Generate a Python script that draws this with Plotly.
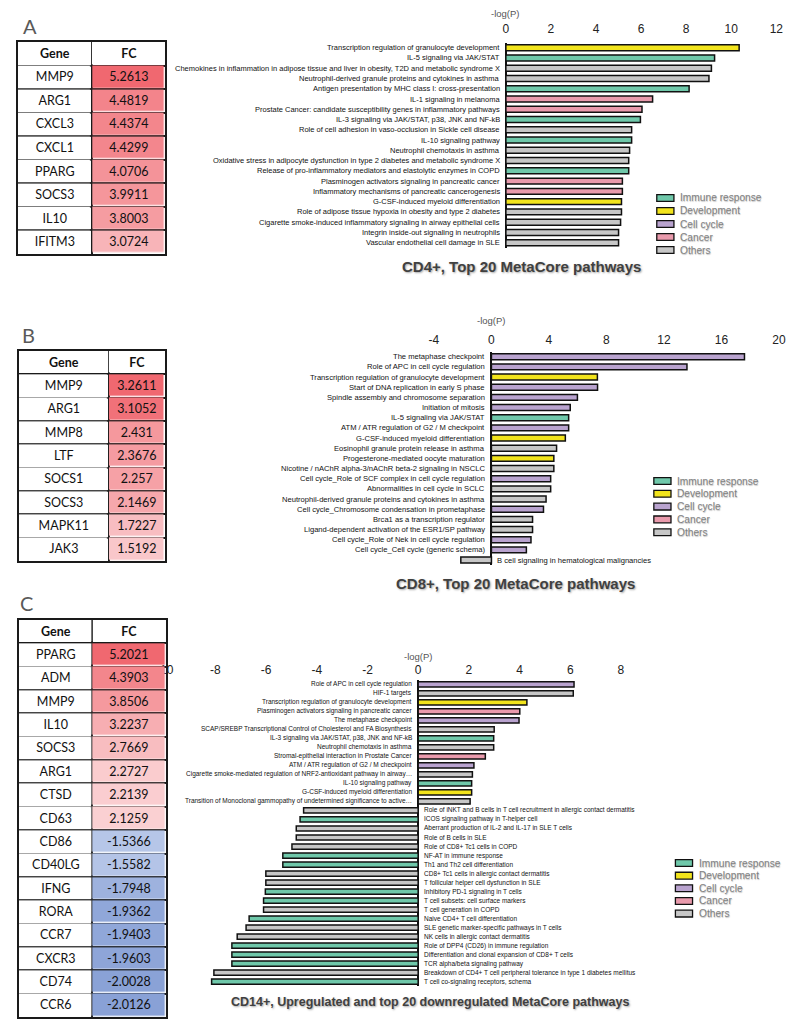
import plotly.graph_objects as go

W, H = 800, 1028

IMM, DEV, CYC, CAN, OTH = "Immune response", "Development", "Cell cycle", "Cancer", "Others"
legend_labels = [IMM, DEV, CYC, CAN, OTH]
legend_colors = ["#6fc8aa", "#f2e41c", "#b9a3cf", "#e99aac", "#c7c7c7"]
COLOR_OF = dict(zip(legend_labels, legend_colors))

# ---------------- Panel A (CD4+) ----------------
genes_a = ["MMP9", "ARG1", "CXCL3", "CXCL1", "PPARG", "SOCS3", "IL10", "IFITM3"]
fc_a = [5.2613, 4.4819, 4.4374, 4.4299, 4.0706, 3.9911, 3.8003, 3.0724]
pathways_a = [
    "Transcription regulation of granulocyte development",
    "IL-5 signaling via JAK/STAT",
    "Chemokines in inflammation in adipose tissue and liver in obesity, T2D and metabolic syndrome X",
    "Neutrophil-derived granule proteins and cytokines in asthma",
    "Antigen presentation by MHC class I: cross-presentation",
    "IL-1 signaling in melanoma",
    "Prostate Cancer: candidate susceptibility genes in inflammatory pathways",
    "IL-3 signaling via JAK/STAT, p38, JNK and NF-kB",
    "Role of cell adhesion in vaso-occlusion in Sickle cell disease",
    "IL-10 signaling pathway",
    "Neutrophil chemotaxis in asthma",
    "Oxidative stress in adipocyte dysfunction in type 2 diabetes and metabolic syndrome X",
    "Release of pro-inflammatory mediators and elastolytic enzymes in COPD",
    "Plasminogen activators signaling in pancreatic cancer",
    "Inflammatory mechanisms of pancreatic cancerogenesis",
    "G-CSF-induced myeloid differentiation",
    "Role of adipose tissue hypoxia in obesity and type 2 diabetes",
    "Cigarette smoke-induced inflammatory signaling in airway epithelial cells",
    "Integrin inside-out signaling in neutrophils",
    "Vascular endothelial cell damage in SLE",
]
logp_a = [10.35, 9.26, 9.12, 9.01, 8.13, 6.51, 6.04, 5.97, 5.58, 5.58,
          5.49, 5.45, 5.45, 5.17, 5.17, 5.13, 5.13, 5.09, 5.00, 5.00]
groups_a = [DEV, IMM, OTH, OTH, IMM, CAN, CAN, IMM, OTH, IMM,
            OTH, OTH, IMM, CAN, CAN, DEV, OTH, OTH, OTH, OTH]
ticks_a = [0, 2, 4, 6, 8, 10, 12]
title_a = "CD4+, Top 20 MetaCore pathways"

# ---------------- Panel B (CD8+) ----------------
genes_b = ["MMP9", "ARG1", "MMP8", "LTF", "SOCS1", "SOCS3", "MAPK11", "JAK3"]
fc_b = [3.2611, 3.1052, 2.431, 2.3676, 2.257, 2.1469, 1.7227, 1.5192]
pathways_b = [
    "The metaphase checkpoint",
    "Role of APC in cell cycle regulation",
    "Transcription regulation of granulocyte development",
    "Start of DNA replication in early S phase",
    "Spindle assembly and chromosome separation",
    "Initiation of mitosis",
    "IL-5 signaling via JAK/STAT",
    "ATM / ATR regulation of G2 / M checkpoint",
    "G-CSF-induced myeloid differentiation",
    "Eosinophil granule protein release in asthma",
    "Progesterone-mediated oocyte maturation",
    "Nicotine / nAChR alpha-3/nAChR beta-2 signaling in NSCLC",
    "Cell cycle_Role of SCF complex in cell cycle regulation",
    "Abnormalities in cell cycle in SCLC",
    "Neutrophil-derived granule proteins and cytokines in asthma",
    "Cell cycle_Chromosome condensation in prometaphase",
    "Brca1 as a transcription regulator",
    "Ligand-dependent activation of the ESR1/SP pathway",
    "Cell cycle_Role of Nek in cell cycle regulation",
    "Cell cycle_Cell cycle (generic schema)",
    "B cell signaling in hematological malignancies",
]
logp_b = [17.6, 13.6, 7.37, 7.38, 5.98, 5.48, 5.37, 5.37, 5.14, 4.53, 4.34,
          4.34, 4.12, 4.12, 3.80, 3.62, 2.86, 2.86, 2.75, 2.43, -2.13]
groups_b = [CYC, CYC, DEV, CYC, CYC, CYC, IMM, CYC, DEV, OTH, DEV,
            OTH, CYC, OTH, OTH, CYC, OTH, OTH, CYC, CYC, OTH]
ticks_b = [-4, 0, 4, 8, 12, 16, 20]
title_b = "CD8+, Top 20 MetaCore pathways"

# ---------------- Panel C (CD14+) ----------------
genes_c = ["PPARG", "ADM", "MMP9", "IL10", "SOCS3", "ARG1", "CTSD", "CD63",
           "CD86", "CD40LG", "IFNG", "RORA", "CCR7", "CXCR3", "CD74", "CCR6"]
fc_c = [5.2021, 4.3903, 3.8506, 3.2237, 2.7669, 2.2727, 2.2139, 2.1259,
        -1.5366, -1.5582, -1.7948, -1.9362, -1.9403, -1.9603, -2.0028, -2.0126]
pathways_c = [
    "Role of APC in cell cycle regulation",
    "HIF-1 targets",
    "Transcription regulation of granulocyte development",
    "Plasminogen activators signaling in pancreatic cancer",
    "The metaphase checkpoint",
    "SCAP/SREBP Transcriptional Control of Cholesterol and FA Biosynthesis",
    "IL-3 signaling via JAK/STAT, p38, JNK and NF-kB",
    "Neutrophil chemotaxis in asthma",
    "Stromal-epithelial interaction in Prostate Cancer",
    "ATM / ATR regulation of G2 / M checkpoint",
    "Cigarette smoke-mediated regulation of NRF2-antioxidant pathway in airway…",
    "IL-10 signaling pathway",
    "G-CSF-induced myeloid differentiation",
    "Transition of Monoclonal gammopathy of undetermined significance to active…",
    "Role of iNKT and B cells in T cell recruitment in allergic contact dermatitis",
    "ICOS signaling pathway in T-helper cell",
    "Aberrant production of IL-2 and IL-17 in SLE T cells",
    "Role of B cells in SLE",
    "Role of CD8+ Tc1 cells in COPD",
    "NF-AT in immune response",
    "Th1 and Th2 cell differentiation",
    "CD8+ Tc1 cells in allergic contact dermatitis",
    "T follicular helper cell dysfunction in SLE",
    "Inhibitory PD-1 signaling in T cells",
    "T cell subsets: cell surface markers",
    "T cell generation in COPD",
    "Naive CD4+ T cell differentiation",
    "SLE genetic marker-specific pathways in T cells",
    "NK cells in allergic contact dermatitis",
    "Role of DPP4 (CD26) in immune regulation",
    "Differentiation and clonal expansion of CD8+ T cells",
    "TCR alpha/beta signaling pathway",
    "Breakdown of CD4+ T cell peripheral tolerance in type 1 diabetes mellitus",
    "T cell co-signaling receptors, schema",
]
logp_c = [6.15, 6.12, 4.29, 4.01, 3.98, 3.00, 2.98, 2.98, 2.65, 2.20, 2.14, 2.11, 2.11, 2.05,
          -4.52, -4.66, -4.81, -4.81, -4.98, -5.34, -5.34, -6.01, -6.01, -6.03,
          -6.10, -6.10, -6.67, -6.79, -7.14, -7.35, -7.35, -7.35, -8.06, -8.15]
groups_c = [CYC, OTH, DEV, CAN, CYC, OTH, IMM, OTH, CAN, CYC, OTH, IMM, DEV, OTH,
            OTH, IMM, OTH, OTH, OTH, IMM, IMM, OTH, OTH, IMM,
            IMM, OTH, IMM, OTH, OTH, IMM, IMM, IMM, OTH, IMM]
ticks_c = [-10, -8, -6, -4, -2, 0, 2, 4, 6, 8]
title_c = "CD14+, Upregulated and top 20 downregulated MetaCore pathways"

table_header = ["Gene", "FC"]

# ---------------- helpers ----------------
def px(xp):
    return xp / W

def py(yp):
    return 1 - yp / H

def mix(c1, c2, t):
    return "rgb(%d,%d,%d)" % tuple(round(a + (b - a) * t) for a, b in zip(c1, c2))

def fc_color(v, values):
    pos = [u for u in values if u > 0]
    neg = [abs(u) for u in values if u < 0]
    if v > 0:
        t = (v / max(pos)) ** 1.3
        return mix((255, 255, 255), (240, 104, 112), t)
    lo, hi = min(neg), max(neg)
    t = (abs(v) - lo) / (hi - lo) if hi > lo else 1
    return mix((182, 198, 232), (137, 161, 214), t)

def fc_colorscale(values):
    zmin, zmax = min(values), max(values)
    stops = sorted(((v - zmin) / (zmax - zmin), fc_color(v, values)) for v in values)
    return [[s, c] for s, c in stops]

TABLE_FONT = "Lato, Carlito, Calibri, sans-serif"
LABEL_FONT = "Liberation Sans, Arial, sans-serif"
AXIS_FONT = "Liberation Sans, Arial, sans-serif"
LINE = "#1a1a1a"
WHITE_SCALE = [[0, "white"], [1, "white"]]

fig = go.Figure()
annotations = []
shapes = []
layout_axes = {}

panels = [
    dict(ax="", genes=genes_a, fc=fc_a, names=pathways_a, vals=logp_a, groups=groups_a, ticks=ticks_a,
         title=title_a, rng=[0, 12], xdom=(507, 783), ydom=(42.6, 247.8), lab=7.5, standoff=6,
         table=(9, 159, 42, 254), colw=(76, 74), tax="4", letter=("A", 21, 26),
         logp_y=14, title_xy=(523, 267), title_size=15, leg=(661, 198, 13.0)),
    dict(ax="2", genes=genes_b, fc=fc_b, names=pathways_b, vals=logp_b, groups=groups_b, ticks=ticks_b,
         title=title_b, rng=[-4, 20], xdom=(433.6, 785.7), ydom=(351.6, 565.1), lab=7.6, standoff=4,
         table=(10, 159, 351, 561), colw=(92, 57), tax="5", letter=("B", 20, 335),
         logp_y=320, title_xy=(517, 583), title_size=15, leg=(658, 481, 12.8)),
    dict(ax="3", genes=genes_c, fc=fc_c, names=pathways_c, vals=logp_c, groups=groups_c, ticks=ticks_c,
         title=title_c, rng=[-10, 9.5], xdom=(158.9, 663.2), ydom=(679.8, 986.2), lab=6.5, standoff=2,
         table=(10, 160, 620, 1017), colw=(75, 75), tax="6", letter=("C", 18, 603),
         logp_y=656, title_xy=(430, 1002), title_size=12.5, leg=(680, 863, 12.65)),
]

# ---- bar charts ----
for p in panels:
    ax = p["ax"]
    xname, yname = "x" + ax, "y" + ax
    fig.add_trace(go.Bar(
        x=p["vals"], y=p["names"], orientation="h",
        marker=dict(color=[COLOR_OF[g] for g in p["groups"]], line=dict(color="#111111", width=1.5)),
        width=0.58, xaxis=xname, yaxis=yname, showlegend=False, hoverinfo="x+y",
    ))
    n = len(p["names"])
    layout_axes["xaxis" + ax] = dict(
        domain=[px(p["xdom"][0]), px(p["xdom"][1])], range=p["rng"], anchor=yname,
        side="top", showgrid=False, showline=False, ticks="", ticklabelstandoff=p["standoff"],
        tickmode="array", tickvals=p["ticks"], ticktext=[str(t) for t in p["ticks"]],
        tickfont=dict(family=AXIS_FONT, size=12, color="#222222"),
        zeroline=True, zerolinecolor="#111111", zerolinewidth=1.6, fixedrange=True,
    )
    layout_axes["yaxis" + ax] = dict(
        domain=[py(p["ydom"][1]), py(p["ydom"][0])], anchor=xname, type="category",
        categoryorder="array", categoryarray=p["names"], range=[n - 0.5, -0.5],
        showticklabels=False, showgrid=False, showline=False, ticks="", zeroline=False, fixedrange=True,
    )
    for name, v in zip(p["names"], p["vals"]):
        annotations.append(dict(
            x=0, y=name, xref=xname, yref=yname, text=name, showarrow=False,
            xanchor="right" if v > 0 else "left", xshift=-4 if v > 0 else 4,
            font=dict(family=LABEL_FONT, size=p["lab"], color="#111111"),
        ))
    annotations.append(dict(
        x=0, y=py(p["logp_y"]), xref=xname, yref="paper", text="-log(P)", showarrow=False,
        xanchor="center", yanchor="middle", font=dict(family=AXIS_FONT, size=9.5, color="#555555"),
    ))
    annotations.append(dict(
        x=px(p["title_xy"][0]), y=py(p["title_xy"][1]), xref="paper", yref="paper",
        text="<b>%s</b>" % p["title"], showarrow=False, xanchor="center", yanchor="middle",
        font=dict(family=AXIS_FONT, size=p["title_size"], color="#404040",
                  shadow="1px 1px 2px rgba(0,0,0,0.35)"),
    ))
    annotations.append(dict(
        x=px(p["letter"][1]), y=py(p["letter"][2]), xref="paper", yref="paper", text=p["letter"][0],
        showarrow=False, xanchor="center", yanchor="middle",
        font=dict(family=TABLE_FONT, size=20, color="#595959"),
    ))
    lx, ly, step = p["leg"]
    for i, (lab, col) in enumerate(zip(legend_labels, legend_colors)):
        yc = ly + i * step
        shapes.append(dict(type="rect", xref="paper", yref="paper",
                           x0=px(lx), x1=px(lx + 17.5), y0=py(yc + 3.4), y1=py(yc - 3.4),
                           fillcolor=col, line=dict(color="#111111", width=1.3)))
        annotations.append(dict(
            x=px(lx + 22), y=py(yc), xref="paper", yref="paper", text=lab, showarrow=False,
            xanchor="left", yanchor="middle",
            font=dict(family=AXIS_FONT, size=10.2, color="#808080",
                      shadow="0.5px 0.5px 1px rgba(0,0,0,0.25)"),
        ))

# ---- FC tables (heatmap cells on their own axes, drawn above the charts) ----
for p in panels:
    k = p["tax"]
    xa, ya = "x" + k, "y" + k
    genes, fcs = p["genes"], p["fc"]
    n = len(genes)
    f = p["colw"][0] / (p["colw"][0] + p["colw"][1])
    tfont = dict(family=TABLE_FONT, size=12.5, color="#111111")
    common = dict(xaxis=xa, yaxis=ya, showscale=False, xgap=1.5, ygap=1.5, hoverinfo="skip", textfont=tfont)
    fig.add_trace(go.Heatmap(z=[[0, 0]], x=[0, f, 1], y=[0, 1], text=[table_header],
                             texttemplate="<b>%{text}</b>", colorscale=WHITE_SCALE, **common))
    fig.add_trace(go.Heatmap(z=[[0] for _ in genes], x=[0, f], y=list(range(1, n + 2)),
                             text=[[g] for g in genes], texttemplate="%{text}",
                             colorscale=WHITE_SCALE, **common))
    fig.add_trace(go.Heatmap(z=[[v] for v in fcs], x=[f, 1], y=list(range(1, n + 2)),
                             text=[[str(v)] for v in fcs], texttemplate="%{text}",
                             colorscale=fc_colorscale(fcs), zmin=min(fcs), zmax=max(fcs), **common))
    x0, x1, y0, y1 = p["table"]
    grid = dict(showgrid=True, gridcolor=LINE, gridwidth=1.5, showticklabels=False, ticks="",
                zeroline=False, showline=True, mirror=True, linecolor=LINE, linewidth=1.8,
                fixedrange=True)
    layout_axes["xaxis" + k] = dict(domain=[px(x0), px(x1)], range=[0, 1], anchor=ya,
                                    tickmode="array", tickvals=[0, f, 1], **grid)
    layout_axes["yaxis" + k] = dict(domain=[py(y1), py(y0)], range=[n + 1, 0], anchor=xa,
                                    tickmode="array", tickvals=list(range(n + 2)), **grid)

fig.update_layout(
    width=W, height=H, margin=dict(l=0, r=0, t=0, b=0),
    paper_bgcolor="white", plot_bgcolor="rgba(0,0,0,0)",
    annotations=annotations, shapes=shapes, showlegend=False,
    **layout_axes,
)

fig.write_html("out.html", config={"displayModeBar": False},
               post_script="document.body.style.margin='0px';document.body.style.padding='0px';")
